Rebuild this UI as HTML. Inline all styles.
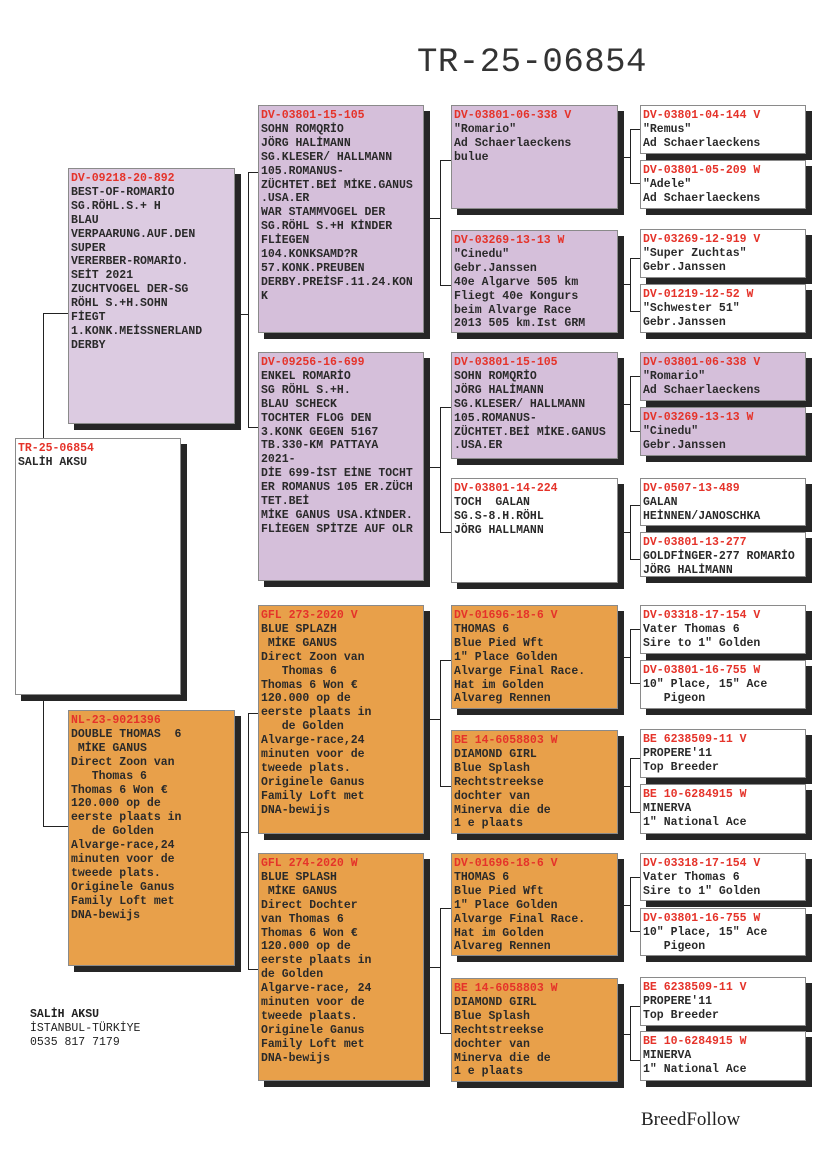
<!DOCTYPE html>
<html><head><meta charset="utf-8"><style>
body{margin:0;width:827px;height:1170px;background:#fff;position:relative;overflow:hidden;font-family:"Liberation Mono","DejaVu Sans Mono",monospace;}
.b{position:absolute;box-sizing:border-box;border:1px solid #8a8a8a;box-shadow:6px 6px 0 #262626;padding:3px 0 0 2px;font-size:11.5px;line-height:13.9px;font-weight:bold;color:#2a2a2a;white-space:pre;overflow:hidden}
.r{color:#e5332a}
.w{background:#fff}.p1{background:#dccbe1}.p{background:#d5bfda}.o{background:#e8a04a}
.l{position:absolute;background:#222}
.h{height:1px}.v{width:1px}
</style></head><body>
<div style="position:absolute;left:417px;top:44px;font-size:34px;color:#333;font-family:'Liberation Mono',monospace;letter-spacing:0.5px">TR-25-06854</div>

<!-- connectors -->
<div class="l v" style="left:43px;top:313px;height:514px"></div>
<div class="l h" style="left:43px;top:313px;width:25px"></div>
<div class="l h" style="left:43px;top:826px;width:25px"></div>

<div class="l v" style="left:248px;top:172px;height:256px"></div>
<div class="l h" style="left:234px;top:314px;width:14px"></div>
<div class="l h" style="left:248px;top:172px;width:10px"></div>
<div class="l h" style="left:248px;top:427px;width:10px"></div>
<div class="l v" style="left:248px;top:713px;height:257px"></div>
<div class="l h" style="left:234px;top:832px;width:14px"></div>
<div class="l h" style="left:248px;top:713px;width:10px"></div>
<div class="l h" style="left:248px;top:969px;width:10px"></div>

<div class="l v" style="left:440px;top:160px;height:126px"></div>
<div class="l h" style="left:423px;top:218px;width:17px"></div>
<div class="l h" style="left:440px;top:160px;width:11px"></div>
<div class="l h" style="left:440px;top:285px;width:11px"></div>
<div class="l v" style="left:440px;top:407px;height:126px"></div>
<div class="l h" style="left:423px;top:467px;width:17px"></div>
<div class="l h" style="left:440px;top:407px;width:11px"></div>
<div class="l h" style="left:440px;top:532px;width:11px"></div>
<div class="l v" style="left:440px;top:660px;height:127px"></div>
<div class="l h" style="left:423px;top:719px;width:17px"></div>
<div class="l h" style="left:440px;top:660px;width:11px"></div>
<div class="l h" style="left:440px;top:786px;width:11px"></div>
<div class="l v" style="left:440px;top:908px;height:126px"></div>
<div class="l h" style="left:423px;top:967px;width:17px"></div>
<div class="l h" style="left:440px;top:908px;width:11px"></div>
<div class="l h" style="left:440px;top:1033px;width:11px"></div>

<div class="l v" style="left:630px;top:129px;height:55px"></div>
<div class="l h" style="left:617px;top:157px;width:13px"></div>
<div class="l h" style="left:630px;top:129px;width:10px"></div>
<div class="l h" style="left:630px;top:183px;width:10px"></div>
<div class="l v" style="left:630px;top:258px;height:54px"></div>
<div class="l h" style="left:617px;top:284px;width:13px"></div>
<div class="l h" style="left:630px;top:258px;width:10px"></div>
<div class="l h" style="left:630px;top:311px;width:10px"></div>
<div class="l v" style="left:630px;top:376px;height:56px"></div>
<div class="l h" style="left:617px;top:404px;width:13px"></div>
<div class="l h" style="left:630px;top:376px;width:10px"></div>
<div class="l h" style="left:630px;top:431px;width:10px"></div>
<div class="l v" style="left:630px;top:505px;height:55px"></div>
<div class="l h" style="left:617px;top:532px;width:13px"></div>
<div class="l h" style="left:630px;top:505px;width:10px"></div>
<div class="l h" style="left:630px;top:559px;width:10px"></div>
<div class="l v" style="left:630px;top:629px;height:55px"></div>
<div class="l h" style="left:617px;top:657px;width:13px"></div>
<div class="l h" style="left:630px;top:629px;width:10px"></div>
<div class="l h" style="left:630px;top:683px;width:10px"></div>
<div class="l v" style="left:630px;top:758px;height:55px"></div>
<div class="l h" style="left:617px;top:786px;width:13px"></div>
<div class="l h" style="left:630px;top:758px;width:10px"></div>
<div class="l h" style="left:630px;top:812px;width:10px"></div>
<div class="l v" style="left:630px;top:877px;height:55px"></div>
<div class="l h" style="left:617px;top:905px;width:13px"></div>
<div class="l h" style="left:630px;top:877px;width:10px"></div>
<div class="l h" style="left:630px;top:931px;width:10px"></div>
<div class="l v" style="left:630px;top:1006px;height:55px"></div>
<div class="l h" style="left:617px;top:1034px;width:13px"></div>
<div class="l h" style="left:630px;top:1006px;width:10px"></div>
<div class="l h" style="left:630px;top:1060px;width:10px"></div>

<!-- subject -->
<div class="b w" style="left:15px;top:438px;width:166px;height:257px"><span class="r">TR-25-06854</span>
SALİH AKSU</div>

<!-- gen1 -->
<div class="b p1" style="left:68px;top:168px;width:167px;height:256px"><span class="r">DV-09218-20-892</span>
BEST-OF-ROMARİO
SG.RÖHL.S.+ H
BLAU
VERPAARUNG.AUF.DEN
SUPER
VERERBER-ROMARİO.
SEİT 2021
ZUCHTVOGEL DER-SG
RÖHL S.+H.SOHN
FİEGT
1.KONK.MEİSSNERLAND
DERBY</div>
<div class="b o" style="left:68px;top:710px;width:167px;height:256px"><span class="r">NL-23-9021396</span>
DOUBLE THOMAS  6
 MİKE GANUS
Direct Zoon van
   Thomas 6
Thomas 6 Won €
120.000 op de
eerste plaats in
   de Golden
Alvarge-race,24
minuten voor de
tweede plats.
Originele Ganus
Family Loft met
DNA-bewijs</div>

<!-- gen2 -->
<div class="b p" style="left:258px;top:105px;width:166px;height:228px"><span class="r">DV-03801-15-105</span>
SOHN ROMQRİO
JÖRG HALİMANN
SG.KLESER/ HALLMANN
105.ROMANUS-
ZÜCHTET.BEİ MİKE.GANUS
.USA.ER
WAR STAMMVOGEL DER
SG.RÖHL S.+H KİNDER
FLİEGEN
104.KONKSAMD?R
57.KONK.PREUBEN
DERBY.PREİSF.11.24.KON
K</div>
<div class="b p" style="left:258px;top:352px;width:166px;height:229px"><span class="r">DV-09256-16-699</span>
ENKEL ROMARİO
SG RÖHL S.+H.
BLAU SCHECK
TOCHTER FLOG DEN
3.KONK GEGEN 5167
TB.330-KM PATTAYA
2021-
DİE 699-İST EİNE TOCHT
ER ROMANUS 105 ER.ZÜCH
TET.BEİ
MİKE GANUS USA.KİNDER.
FLİEGEN SPİTZE AUF OLR</div>
<div class="b o" style="left:258px;top:605px;width:166px;height:229px"><span class="r">GFL 273-2020 V</span>
BLUE SPLAZH
 MİKE GANUS
Direct Zoon van
   Thomas 6
Thomas 6 Won €
120.000 op de
eerste plaats in
   de Golden
Alvarge-race,24
minuten voor de
tweede plats.
Originele Ganus
Family Loft met
DNA-bewijs</div>
<div class="b o" style="left:258px;top:853px;width:166px;height:228px"><span class="r">GFL 274-2020 W</span>
BLUE SPLASH
 MİKE GANUS
Direct Dochter
van Thomas 6
Thomas 6 Won €
120.000 op de
eerste plaats in
de Golden
Algarve-race, 24
minuten voor de
tweede plaats.
Originele Ganus
Family Loft met
DNA-bewijs</div>

<!-- gen3 -->
<div class="b p" style="left:451px;top:105px;width:167px;height:104px"><span class="r">DV-03801-06-338 V</span>
"Romario"
Ad Schaerlaeckens
bulue</div>
<div class="b p" style="left:451px;top:230px;width:167px;height:103px"><span class="r">DV-03269-13-13 W</span>
"Cinedu"
Gebr.Janssen
40e Algarve 505 km
Fliegt 40e Kongurs
beim Alvarge Race
2013 505 km.Ist GRM</div>
<div class="b p" style="left:451px;top:352px;width:167px;height:107px"><span class="r">DV-03801-15-105</span>
SOHN ROMQRİO
JÖRG HALİMANN
SG.KLESER/ HALLMANN
105.ROMANUS-
ZÜCHTET.BEİ MİKE.GANUS
.USA.ER</div>
<div class="b w" style="left:451px;top:478px;width:167px;height:105px"><span class="r">DV-03801-14-224</span>
TOCH  GALAN
SG.S-8.H.RÖHL
JÖRG HALLMANN</div>
<div class="b o" style="left:451px;top:605px;width:167px;height:104px"><span class="r">DV-01696-18-6 V</span>
THOMAS 6
Blue Pied Wft
1" Place Golden
Alvarge Final Race.
Hat im Golden
Alvareg Rennen</div>
<div class="b o" style="left:451px;top:730px;width:167px;height:104px"><span class="r">BE 14-6058803 W</span>
DIAMOND GIRL
Blue Splash
Rechtstreekse
dochter van
Minerva die de
1 e plaats</div>
<div class="b o" style="left:451px;top:853px;width:167px;height:103px"><span class="r">DV-01696-18-6 V</span>
THOMAS 6
Blue Pied Wft
1" Place Golden
Alvarge Final Race.
Hat im Golden
Alvareg Rennen</div>
<div class="b o" style="left:451px;top:978px;width:167px;height:104px"><span class="r">BE 14-6058803 W</span>
DIAMOND GIRL
Blue Splash
Rechtstreekse
dochter van
Minerva die de
1 e plaats</div>

<!-- gen4 -->
<div class="b w" style="left:640px;top:105px;width:166px;height:49px"><span class="r">DV-03801-04-144 V</span>
"Remus"
Ad Schaerlaeckens</div>
<div class="b w" style="left:640px;top:160px;width:166px;height:49px"><span class="r">DV-03801-05-209 W</span>
"Adele"
Ad Schaerlaeckens</div>
<div class="b w" style="left:640px;top:229px;width:166px;height:49px"><span class="r">DV-03269-12-919 V</span>
"Super Zuchtas"
Gebr.Janssen</div>
<div class="b w" style="left:640px;top:284px;width:166px;height:49px"><span class="r">DV-01219-12-52 W</span>
"Schwester 51"
Gebr.Janssen</div>
<div class="b p" style="left:640px;top:352px;width:166px;height:49px"><span class="r">DV-03801-06-338 V</span>
"Romario"
Ad Schaerlaeckens</div>
<div class="b p" style="left:640px;top:407px;width:166px;height:49px"><span class="r">DV-03269-13-13 W</span>
"Cinedu"
Gebr.Janssen</div>
<div class="b w" style="left:640px;top:478px;width:166px;height:48px"><span class="r">DV-0507-13-489</span>
GALAN
HEİNNEN/JANOSCHKA</div>
<div class="b w" style="left:640px;top:532px;width:166px;height:45px"><span class="r">DV-03801-13-277</span>
GOLDFİNGER-277 ROMARİO
JÖRG HALİMANN</div>
<div class="b w" style="left:640px;top:605px;width:166px;height:49px"><span class="r">DV-03318-17-154 V</span>
Vater Thomas 6
Sire to 1" Golden</div>
<div class="b w" style="left:640px;top:660px;width:166px;height:49px"><span class="r">DV-03801-16-755 W</span>
10" Place, 15" Ace
   Pigeon</div>
<div class="b w" style="left:640px;top:729px;width:166px;height:49px"><span class="r">BE 6238509-11 V</span>
PROPERE'11
Top Breeder</div>
<div class="b w" style="left:640px;top:784px;width:166px;height:50px"><span class="r">BE 10-6284915 W</span>
MINERVA
1" National Ace</div>
<div class="b w" style="left:640px;top:853px;width:166px;height:48px"><span class="r">DV-03318-17-154 V</span>
Vater Thomas 6
Sire to 1" Golden</div>
<div class="b w" style="left:640px;top:908px;width:166px;height:48px"><span class="r">DV-03801-16-755 W</span>
10" Place, 15" Ace
   Pigeon</div>
<div class="b w" style="left:640px;top:977px;width:166px;height:49px"><span class="r">BE 6238509-11 V</span>
PROPERE'11
Top Breeder</div>
<div class="b w" style="left:640px;top:1031px;width:166px;height:50px"><span class="r">BE 10-6284915 W</span>
MINERVA
1" National Ace</div>

<div style="position:absolute;left:30px;top:1008px;font-size:11.5px;line-height:14px;color:#222;white-space:pre"><b>SALİH AKSU</b>
İSTANBUL-TÜRKİYE
0535 817 7179</div>
<div style="position:absolute;left:641px;top:1109px;font-family:'Liberation Serif',serif;font-size:19px;color:#222">BreedFollow</div>
</body></html>
